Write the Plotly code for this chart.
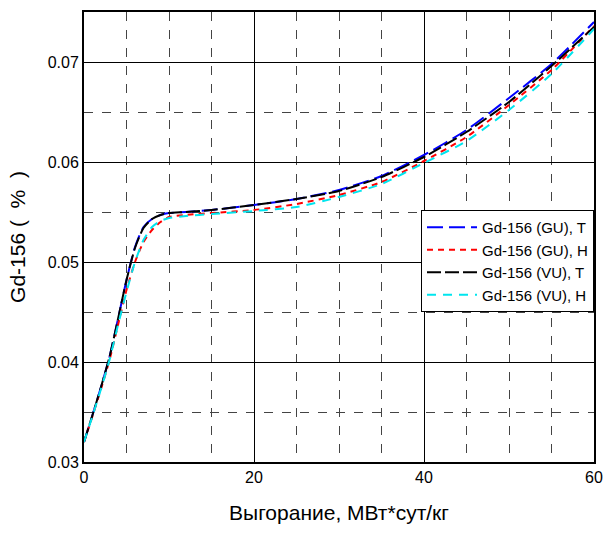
import plotly.graph_objects as go

burnup = [0, 1, 2, 3, 4, 5, 6, 7, 8, 9, 10, 12, 15, 20, 25, 30, 35, 40, 45, 50, 55, 60]

gu_t = [0.0320, 0.0347, 0.0375, 0.0405, 0.0443, 0.0482, 0.0515, 0.0535, 0.0543, 0.0547, 0.0549,
        0.0550, 0.0552, 0.0557, 0.0563, 0.0572, 0.0586, 0.0607, 0.0632, 0.0664, 0.0698, 0.0740]
gu_h = [0.0320, 0.0346, 0.0373, 0.0402, 0.0437, 0.0472, 0.0500, 0.0520, 0.0532, 0.0540, 0.0545,
        0.0547, 0.0549, 0.0552, 0.0558, 0.0567, 0.0580, 0.0601, 0.0625, 0.0657, 0.0692, 0.0736]
vu_t = [0.0320, 0.0347, 0.0375, 0.0405, 0.0443, 0.0482, 0.0514, 0.0534, 0.0543, 0.0547, 0.0549,
        0.0550, 0.0552, 0.0557, 0.0563, 0.0571, 0.0585, 0.0605, 0.0630, 0.0660, 0.0696, 0.0735]
vu_h = [0.0320, 0.0346, 0.0373, 0.0402, 0.0437, 0.0470, 0.0500, 0.0522, 0.0535, 0.0541, 0.0544,
        0.0546, 0.0548, 0.0551, 0.0555, 0.0565, 0.0578, 0.0599, 0.0621, 0.0652, 0.0688, 0.0733]

series = [
    ("Gd-156 (GU), T", gu_t, "#0000ff", "16px,6px"),
    ("Gd-156 (GU), H", gu_h, "#ff0000", "6px,5px"),
    ("Gd-156 (VU), T", vu_t, "#000000", "14px,4px"),
    ("Gd-156 (VU), H", vu_h, "#00e5ee", "9px,7px"),
]

x_ticks = [0, 20, 40, 60]
y_ticks = [0.03, 0.04, 0.05, 0.06, 0.07]

fig = go.Figure()
for name, ys, color, dash in series:
    fig.add_trace(go.Scatter(x=burnup, y=ys, name=name, mode="lines",
                             line=dict(color=color, width=2, dash=dash, shape="spline", smoothing=0.6)))

regular = "Liberation Sans, Arial, sans-serif"
fig.update_layout(
    width=606, height=533,
    margin=dict(l=84, r=12, t=12, b=71),
    paper_bgcolor="white", plot_bgcolor="white",
    font=dict(family=regular, size=15, color="black"),
    showlegend=True,
    legend=dict(x=1.0, xanchor="right", y=0.56, yanchor="top",
                bgcolor="white", bordercolor="black", borderwidth=1,
                font=dict(family=regular, size=15), tracegroupgap=0, itemwidth=50),
    xaxis=dict(
        range=[0, 60], tickvals=x_ticks, ticktext=[str(v) for v in x_ticks],
        tickfont=dict(family=regular, size=16), ticklabeloverflow="allow", automargin=False,
        showline=True, linecolor="black", linewidth=2, mirror=True,
        showgrid=True, gridcolor="black", gridwidth=1,
        minor=dict(dtick=5, showgrid=True, gridcolor="#444", griddash="dash", gridwidth=1),
        ticks="", zeroline=False,
        title=dict(text="Выгорание, МВт*сут/кг", font=dict(family=regular, size=21), standoff=20),
    ),
    yaxis=dict(
        range=[0.03, 0.075], tickvals=y_ticks, ticktext=["0.03", "0.04", "0.05", "0.06", "0.07"],
        tickfont=dict(family=regular, size=16), automargin=False,
        showline=True, linecolor="black", linewidth=2, mirror=True,
        showgrid=True, gridcolor="black", gridwidth=1,
        minor=dict(dtick=0.005, tick0=0.03, showgrid=True, gridcolor="#444", griddash="dash", gridwidth=1),
        ticks="", zeroline=False,
        title=dict(text="Gd-156 (\u00a0 % \u00a0)", font=dict(family=regular, size=21), standoff=16),
    ),
)

fig.write_html("out.html", config={"displayModeBar": False},
               post_script="document.body.style.margin='0';document.body.style.overflow='hidden';")
